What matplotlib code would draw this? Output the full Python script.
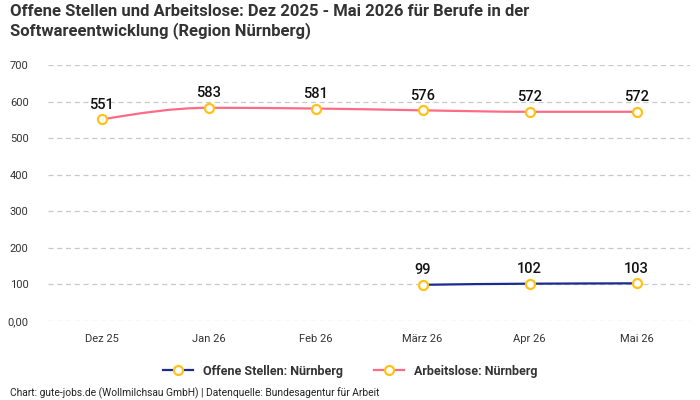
import matplotlib
matplotlib.use("Agg")
import matplotlib.pyplot as plt
from matplotlib.path import Path
from matplotlib.patches import PathPatch
from matplotlib.lines import Line2D
import numpy as np

plt.rcParams['font.family'] = ['Roboto', 'DejaVu Sans']

categories = ["Dez 25", "Jan 26", "Feb 26", "März 26", "Apr 26", "Mai 26"]
arbeitslose = [551, 583, 581, 576, 572, 572]
offene_idx = [3, 4, 5]
offene = [99, 102, 103]
yticks = [0, 100, 200, 300, 400, 500, 600, 700]
ytick_labels = ["0,00", "100", "200", "300", "400", "500", "600", "700"]

RED = "#ff6b86"
BLUE = "#1b2b8f"
GOLD = "#ffc21a"


def monotone_path(xs, ys):
    xs = np.asarray(xs, float); ys = np.asarray(ys, float)
    n = len(xs)
    h = np.diff(xs); d = np.diff(ys) / h
    m = np.zeros(n)
    m[0] = d[0]; m[-1] = d[-1]
    for i in range(1, n - 1):
        if d[i - 1] * d[i] <= 0:
            m[i] = 0
        else:
            m[i] = 3 * (h[i - 1] + h[i]) / ((2 * h[i] + h[i - 1]) / d[i - 1] + (h[i] + 2 * h[i - 1]) / d[i])
    if n > 2:
        m[0] = ((2 * h[0] + h[1]) * d[0] - h[0] * d[1]) / (h[0] + h[1])
        if m[0] * d[0] <= 0:
            m[0] = 0
    verts = [(xs[0], ys[0])]; codes = [Path.MOVETO]
    for i in range(n - 1):
        dx = h[i] / 3
        verts += [(xs[i] + dx, ys[i] + m[i] * dx), (xs[i + 1] - dx, ys[i + 1] - m[i + 1] * dx), (xs[i + 1], ys[i + 1])]
        codes += [Path.CURVE4] * 3
    return Path(verts, codes)


fig = plt.figure(figsize=(7, 4), dpi=100)
ax = fig.add_axes([48 / 700, 1 - 321 / 400, 642 / 700, 256 / 400])
ax.set_xlim(-0.5, 5.5)
ax.set_ylim(0, 700)

MS = 6.5
MEW = 1.6
LW = 1.6

x_all = np.arange(len(categories))
ax.add_patch(PathPatch(monotone_path(x_all, arbeitslose), fill=False, edgecolor=RED, lw=LW, zorder=3))
ax.add_patch(PathPatch(monotone_path(offene_idx, offene), fill=False, edgecolor=BLUE, lw=LW, zorder=3))

ax.plot(x_all, arbeitslose, ls='none', marker='o', ms=MS, mfc='white', mec=GOLD, mew=MEW, zorder=4)
ax.plot(offene_idx, offene, ls='none', marker='o', ms=MS, mfc='white', mec=GOLD, mew=MEW, zorder=4)

for x, v in zip(x_all, arbeitslose):
    ax.annotate(str(v), (x, v), xytext=(0, 5.5), textcoords='offset points', ha='center', va='bottom',
                fontsize=10.5, fontweight='medium', color='#111111')
for x, v in zip(offene_idx, offene):
    ax.annotate(str(v), (x, v), xytext=(0, 5.5), textcoords='offset points', ha='center', va='bottom',
                fontsize=10.5, fontweight='medium', color='#111111')

ax.set_yticks(yticks)
ax.set_yticklabels(ytick_labels)
ax.set_xticks(x_all)
ax.set_xticklabels(categories)
ax.tick_params(axis='both', length=0, labelsize=8, colors='#333333')
ax.tick_params(axis='y', pad=14)
ax.tick_params(axis='x', pad=9)
ax.grid(axis='y', color='#c8c8c8', ls=(0, (4, 3)), lw=0.9)
ax.set_axisbelow(True)
for s in ax.spines.values():
    s.set_visible(False)

fig.text(10 / 700, 1 - 4 / 400, "Offene Stellen und Arbeitslose: Dez 2025 - Mai 2026 für Berufe in der\nSoftwareentwicklung (Region Nürnberg)",
         ha='left', va='top', fontsize=12, fontweight='bold', color='#333333', linespacing=1.25)

handles = [Line2D([0], [0], color=BLUE, lw=LW, marker='o', ms=MS, mfc='white', mec=GOLD, mew=MEW),
           Line2D([0], [0], color=RED, lw=LW, marker='o', ms=MS, mfc='white', mec=GOLD, mew=MEW)]
fig.legend(handles, ["Offene Stellen: Nürnberg", "Arbeitslose: Nürnberg"], loc='center',
           bbox_to_anchor=(0.5, 1 - 371 / 400), ncol=2, frameon=False, handlelength=2.4,
           columnspacing=2.5, prop={'size': 9, 'weight': 'bold'}, labelcolor='#333333')

fig.text(10 / 700, 1 - 393 / 400, "Chart: gute-jobs.de (Wollmilchsau GmbH) | Datenquelle: Bundesagentur für Arbeit",
         ha='left', va='center', fontsize=7.4, color='#222222')

fig.savefig("out.png", dpi=100)
